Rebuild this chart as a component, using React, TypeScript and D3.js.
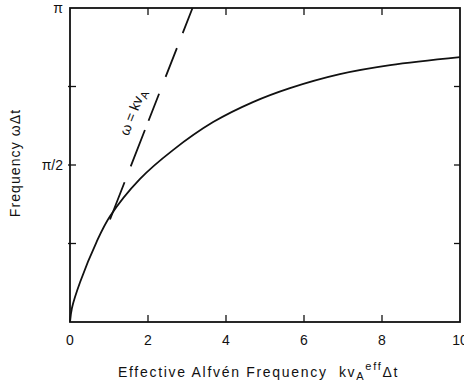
import { useEffect, useRef } from "react";
import * as d3 from "d3";

// curve: effective Alfven frequency vs omega*dt (radians)
const kvEff = [0, 0.05, 0.26, 0.68, 1.03, 1.79, 2.64, 3.67, 4.69, 5.64, 6.92, 8.21, 10];
const omegaDt = [0, 0.14, 0.4, 0.8, 1.06, 1.43, 1.72, 2.0, 2.2, 2.34, 2.48, 2.57, 2.65];

// omega = k vA reference line (dashed), drawn from pi down to where it meets the curve
const lineStart = 1.02;
const lineEnd = Math.PI;

const xTicks = [2, 4, 6, 8];
const xTickLabels = [0, 2, 4, 6, 8, 10];
const yTicks = [Math.PI / 4, Math.PI / 2, (3 * Math.PI) / 4];
const yTickLabels = [
  { v: Math.PI, t: "π" },
  { v: Math.PI / 2, t: "π/2" },
];

const FONT = "'Liberation Sans', Arial, sans-serif";

const App = () => {
  const ref = useRef<SVGSVGElement | null>(null);

  useEffect(() => {
    if (!ref.current) return;
    const svg = d3.select(ref.current);
    svg.selectAll("*").remove();

    const x = d3.scaleLinear().domain([0, 10]).range([70, 460]);
    const y = d3.scaleLinear().domain([0, Math.PI]).range([322, 8]);

    const g = svg.append("g");

    // frame
    g.append("rect")
      .attr("x", x(0))
      .attr("y", y(Math.PI))
      .attr("width", x(10) - x(0))
      .attr("height", y(0) - y(Math.PI))
      .attr("fill", "none")
      .attr("stroke", "#111")
      .attr("stroke-width", 1.8);

    // inward ticks
    xTicks.forEach((t) => {
      g.append("line")
        .attr("x1", x(t)).attr("x2", x(t))
        .attr("y1", y(0)).attr("y2", y(0) - 7)
        .attr("stroke", "#111").attr("stroke-width", 1.3);
      g.append("line")
        .attr("x1", x(t)).attr("x2", x(t))
        .attr("y1", y(Math.PI)).attr("y2", y(Math.PI) + 7)
        .attr("stroke", "#111").attr("stroke-width", 1.3);
    });
    yTicks.forEach((t) => {
      g.append("line")
        .attr("x1", x(0) - 2).attr("x2", x(0) + 6)
        .attr("y1", y(t)).attr("y2", y(t))
        .attr("stroke", "#111").attr("stroke-width", 1.3);
      g.append("line")
        .attr("x1", x(10)).attr("x2", x(10) - 6)
        .attr("y1", y(t)).attr("y2", y(t))
        .attr("stroke", "#111").attr("stroke-width", 1.3);
    });

    // tick labels
    g.selectAll(".xl")
      .data(xTickLabels)
      .enter()
      .append("text")
      .attr("x", (d) => x(d))
      .attr("y", 345)
      .attr("text-anchor", "middle")
      .attr("font-family", FONT)
      .attr("font-size", 14)
      .attr("fill", "#111")
      .text((d) => d);

    g.selectAll(".yl")
      .data(yTickLabels)
      .enter()
      .append("text")
      .attr("x", 63)
      .attr("y", (d) => y(d.v) + 5)
      .attr("text-anchor", "end")
      .attr("font-family", FONT)
      .attr("font-size", 14)
      .attr("fill", "#111")
      .text((d) => d.t);

    // main curve
    const pts = kvEff.map((k, i) => [k, omegaDt[i]] as [number, number]);
    const line = d3
      .line<[number, number]>()
      .x((d) => x(d[0]))
      .y((d) => y(d[1]))
      .curve(d3.curveCatmullRom.alpha(0.5));
    g.append("path")
      .datum(pts)
      .attr("d", line)
      .attr("fill", "none")
      .attr("stroke", "#111")
      .attr("stroke-width", 1.8);

    // dashed omega = k vA
    g.append("line")
      .attr("x1", x(lineEnd)).attr("y1", y(lineEnd))
      .attr("x2", x(lineStart)).attr("y2", y(lineStart))
      .attr("stroke", "#111")
      .attr("stroke-width", 1.8)
      .attr("stroke-dasharray", "27 16 31 18 29 10 39 17 40");

    // label along the dashed line
    const ang = (Math.atan2(y(1) - y(0), x(1) - x(0)) * 180) / Math.PI;
    const lbl = g.append("text")
      .attr("transform", `translate(137,114) rotate(${ang})`)
      .attr("text-anchor", "middle")
      .attr("font-family", FONT)
      .attr("font-size", 14)
      .attr("fill", "#111");
    lbl.append("tspan").text("ω = kv");
    lbl.append("tspan").attr("dy", 4).attr("font-size", 11).text("A");

    // axis titles
    const xt = g.append("text")
      .attr("x", 118)
      .attr("y", 377)
      .attr("font-family", FONT)
      .attr("font-size", 14)
      .attr("letter-spacing", 1.7)
      .style("white-space", "pre")
      .attr("fill", "#111");
    xt.append("tspan").text("Effective Alfvén Frequency  kv");
    xt.append("tspan").attr("dy", 3).attr("font-size", 11).text("A");
    xt.append("tspan").attr("dy", -10).attr("font-size", 11).text("eff");
    xt.append("tspan").attr("dy", 7).text("Δt");

    g.append("text")
      .attr("transform", "translate(20,163) rotate(-90)")
      .attr("text-anchor", "middle")
      .attr("font-family", FONT)
      .attr("font-size", 14)
      .attr("letter-spacing", 1.1)
      .attr("fill", "#111")
      .text("Frequency ωΔt");
  }, []);

  return (
    <svg
      ref={ref}
      width={464}
      height={385}
      style={{ position: "fixed", left: 0, top: 0, background: "#fff" }}
    ></svg>
  );
};

export default App;
